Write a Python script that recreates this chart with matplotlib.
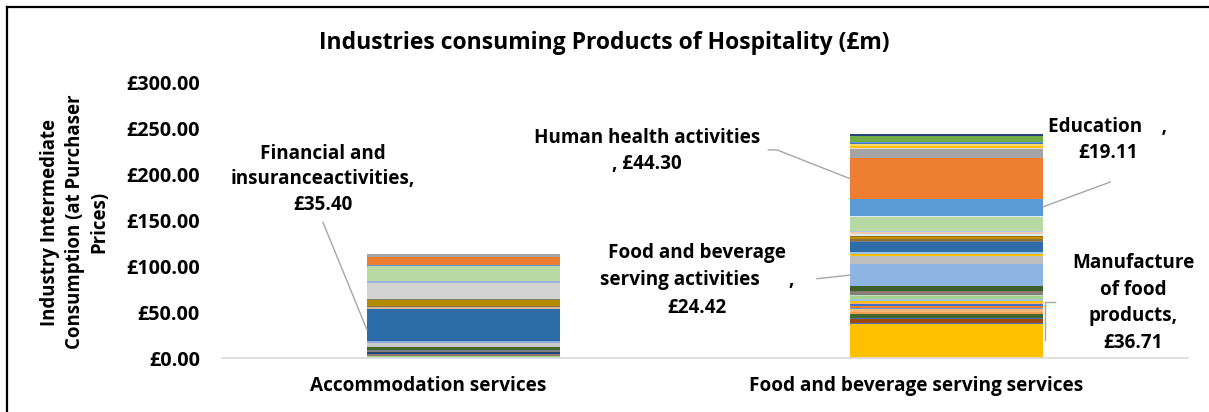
import numpy as np
import matplotlib
matplotlib.use("Agg")
import matplotlib.pyplot as plt
import matplotlib.transforms as mtransforms
from matplotlib.lines import Line2D

plt.rcParams['font.family'] = ['Open Sans', 'DejaVu Sans']
plt.rcParams['font.weight'] = 'bold'

# categories on the x axis
categories = ["Accommodation services", "Food and beverage serving services"]

# stacked segments, bottom to top (£m)
accommodation_values = [2.0, 2.2, 2.5, 1.8, 3.6, 4.3, 2.2, 35.40, 1.8, 1.4,
                        5.8, 1.5, 17.0, 2.2, 16.3, 1.5, 8.7, 2.8]
accommodation_colors = ['#A9D18E', '#8C7B6B', '#264478', '#7F7F7F', '#43682B',
                        '#C9C9C9', '#8FAADC', '#2C6CA8', '#D6B99A', '#8C6D3F',
                        '#B38B00', '#7F7F5F', '#D3D3D3', '#9DB4E0', '#B8D8A4',
                        '#5B9BD5', '#ED7D31', '#A5A5A5']

food_values = [36.71, 1.4, 4.3, 1.4, 4.3, 2.2, 2.9, 1.8, 1.8, 1.8,
               1.8, 1.8, 2.6, 2.8, 1.5, 2.2, 1.8, 5.1, 24.42, 9.0,
               1.8, 1.8, 10.9, 1.8, 1.8, 1.8, 1.8, 1.8, 1.8, 1.8,
               15.2, 0.5, 19.11, 44.30, 0.8, 9.4, 0.7, 2.6, 1.8, 1.8,
               1.1, 6.2, 1.7]
food_colors = ['#FFC000', '#4472C4', '#9E480E', '#4472C4', '#43682B',
               '#F19E58', '#F8B878', '#5B9BD5', '#ED7D31', '#4472C4',
               '#F4B183', '#FFC000', '#9DC3E6', '#A9D18E', '#C5E0B4',
               '#7F7F7F', '#8C7B6B', '#3B5E2B', '#8DB4E2', '#BFBFBF',
               '#FFC000', '#9DC3E6', '#2E6DA9', '#7F7F7F', '#8C6D3F',
               '#BF9000', '#997300', '#DDEBF7', '#F8CBAD', '#B4C7E7',
               '#B9D9A4', '#DDEBF7', '#5B9BD5', '#ED7D31', '#F8CBAD',
               '#A5A5A5', '#DDDDDD', '#FFC000', '#FFD966', '#4472C4',
               '#5B9BD5', '#70AD47', '#264478']

y_ticks = [0, 50, 100, 150, 200, 250, 300]

fig = plt.figure(figsize=(12.09, 4.12), dpi=100)
ax = fig.add_axes([222 / 1209, 54 / 412, 966 / 1209, 275 / 412])


def stack(x, values, colors):
    bottoms = np.concatenate([[0], np.cumsum(values)[:-1]])
    ax.bar([x] * len(values), values, bottom=bottoms, width=0.4,
           color=colors, linewidth=0)
    return bottoms


acc_bottoms = stack(0, accommodation_values, accommodation_colors)
food_bottoms = stack(1, food_values, food_colors)

ax.set_xlim(-0.5, 1.5)
ax.set_ylim(0, 300)
ax.set_yticks(y_ticks)
ax.set_yticklabels([f"£{v:.2f}" for v in y_ticks])
ax.tick_params(axis='y', length=0, pad=16, labelsize=14.2)
ax.tick_params(axis='x', length=0, pad=13, labelsize=13.7)
ax.set_xticks([0, 1])
ax.set_xticklabels(categories)
for lbl, dx in zip(ax.get_xticklabels(), [-35, -30]):
    lbl.set_transform(lbl.get_transform() +
                      mtransforms.ScaledTranslation(dx / 100, 0, fig.dpi_scale_trans))

for side in ['left', 'right', 'top']:
    ax.spines[side].set_visible(False)
ax.spines['bottom'].set_color('#D9D9D9')
ax.spines['bottom'].set_linewidth(1.2)

fig.text(0.5, 1 - 43 / 412, "Industries consuming Products of Hospitality (£m)",
         ha='center', va='center', fontsize=16.5, fontweight='bold')
fig.text(75 / 1209, 1 - 222 / 412,
         "Industry Intermediate\nConsumption (at Purchaser\nPrices)",
         rotation=90, ha='center', va='center', multialignment='center',
         fontsize=13.4, linespacing=1.3)

lead = dict(color='#A6A6A6', lw=1)
txt = dict(ha='center', va='center', fontsize=13.6, fontweight='bold',
           multialignment='center')

# Financial and insurance (accommodation)
fin_mid = acc_bottoms[7] + accommodation_values[7] * 0.35
ax.text(-0.291, 195, "Financial and\ninsuranceactivities,\n£35.40", linespacing=1.38, **txt)
ax.plot([-0.291, -0.2], [148, fin_mid], **lead)

# Human health (food)
hh_mid = food_bottoms[33] + food_values[33] * 0.5
ax.text(0.38, 226, "Human health activities\n, £44.30", linespacing=1.38, **txt)
ax.plot([0.631, 0.649, 0.8], [227, 227, hh_mid], **lead)

# Education (food)
ed_mid = food_bottoms[32] + food_values[32] * 0.55
ax.text(1.334, 238, "Education    ,\n£19.11", linespacing=1.4, **txt)
ax.plot([1.339, 1.2], [192, ed_mid], **lead)

# Food and beverage serving activities (food)
fb_mid = food_bottoms[18] + food_values[18] * 0.5
ax.text(0.483, 85, "Food and beverage\nserving activities      ,\n£24.42", linespacing=1.5, **txt)
ax.plot([0.732, 0.8], [86.5, fb_mid], **lead)

# Manufacture of food products (food)
mf_end = food_bottoms[0] + food_values[0] * 0.53
ax.text(1.386, 60, "Manufacture\nof food\nproducts,\n£36.71", linespacing=1.45, **txt)
ax.plot([1.225, 1.204, 1.204], [61, 61, mf_end], **lead)

# chart border (top and left visible in the crop)
fig.add_artist(Line2D([7 / 1209, 7 / 1209], [0, 1 - 6.5 / 412], color='black', lw=1.6,
                      transform=fig.transFigure))
fig.add_artist(Line2D([7 / 1209, 1], [1 - 6.5 / 412, 1 - 6.5 / 412], color='black', lw=1.6,
                      transform=fig.transFigure))

fig.savefig("out.png", dpi=100)
